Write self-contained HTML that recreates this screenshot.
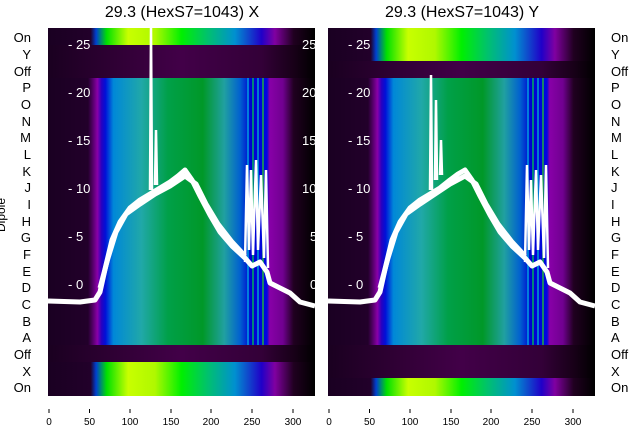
<!DOCTYPE html>
<html><head><meta charset="utf-8"><style>
html,body{margin:0;padding:0;background:#fff;width:640px;height:440px;overflow:hidden}
svg text{font-family:"Liberation Sans","DejaVu Sans",sans-serif}
</style></head><body>
<svg width="640" height="440" viewBox="0 0 640 440" xmlns="http://www.w3.org/2000/svg">
<defs>
<linearGradient id="main" x1="0" x2="1" y1="0" y2="0">
<stop offset="0" stop-color="#1a0022"/><stop offset="0.15" stop-color="#22002a"/>
<stop offset="0.17" stop-color="#5a0070"/><stop offset="0.185" stop-color="#8a00a8"/>
<stop offset="0.2" stop-color="#2a00c0"/><stop offset="0.215" stop-color="#0010d8"/>
<stop offset="0.245" stop-color="#0088d8"/><stop offset="0.35" stop-color="#20a8a8"/>
<stop offset="0.45" stop-color="#00a048"/><stop offset="0.58" stop-color="#009828"/>
<stop offset="0.66" stop-color="#20a0a0"/><stop offset="0.72" stop-color="#0060d0"/>
<stop offset="0.76" stop-color="#0000d0"/><stop offset="0.82" stop-color="#0008e0"/>
<stop offset="0.83" stop-color="#8800a8"/><stop offset="0.88" stop-color="#700090"/>
<stop offset="0.92" stop-color="#200020"/><stop offset="1" stop-color="#000000"/>
</linearGradient>
<linearGradient id="on" x1="0" x2="1" y1="0" y2="0">
<stop offset="0" stop-color="#1a0022"/><stop offset="0.16" stop-color="#22002a"/>
<stop offset="0.18" stop-color="#0040d0"/><stop offset="0.22" stop-color="#00e000"/>
<stop offset="0.3" stop-color="#c8ff00"/><stop offset="0.4" stop-color="#b0f800"/>
<stop offset="0.5" stop-color="#00f000"/><stop offset="0.6" stop-color="#00c070"/>
<stop offset="0.7" stop-color="#0090d0"/><stop offset="0.8" stop-color="#2000c8"/>
<stop offset="0.85" stop-color="#8000a0"/><stop offset="0.92" stop-color="#200020"/>
<stop offset="1" stop-color="#000000"/>
</linearGradient>
<linearGradient id="dk" x1="0" x2="1" y1="0" y2="0">
<stop offset="0" stop-color="#1a0020"/><stop offset="0.3" stop-color="#330038"/>
<stop offset="0.5" stop-color="#420048"/><stop offset="0.8" stop-color="#330038"/>
<stop offset="0.92" stop-color="#180018"/><stop offset="1" stop-color="#000"/>
</linearGradient>
</defs>

<rect x="48" y="28" width="267" height="17" fill="url(#on)"/>
<rect x="48" y="45" width="267" height="33" fill="url(#dk)"/>
<rect x="48" y="78" width="267" height="267" fill="url(#main)"/>
<rect x="48" y="345" width="267" height="17" fill="url(#dk)"/>
<rect x="48" y="362" width="267" height="34" fill="url(#on)"/>
<rect x="328" y="28" width="267" height="33" fill="url(#on)"/>
<rect x="328" y="61" width="267" height="17" fill="url(#dk)"/>
<rect x="328" y="78" width="267" height="267" fill="url(#main)"/>
<rect x="328" y="345" width="267" height="33" fill="url(#dk)"/>
<rect x="328" y="378" width="267" height="18" fill="url(#on)"/>

<g stroke-width="1.5">
<line x1="248" y1="78" x2="248" y2="345" stroke="#00a0e0"/><line x1="253" y1="78" x2="253" y2="345" stroke="#00b060"/>
<line x1="258" y1="78" x2="258" y2="345" stroke="#00a0d0"/><line x1="263" y1="78" x2="263" y2="345" stroke="#20b040"/>
<line x1="528" y1="78" x2="528" y2="345" stroke="#00a0e0"/><line x1="533" y1="78" x2="533" y2="345" stroke="#00b060"/>
<line x1="538" y1="78" x2="538" y2="345" stroke="#00a0d0"/><line x1="543" y1="78" x2="543" y2="345" stroke="#20b040"/>
</g>

<g fill="none" stroke="#fff" stroke-width="5" stroke-linejoin="round">
<polyline points="48,301 80,302 95,300 100,292 106,265 112,240 120,222 130,208 140,200 150,194 160,188 170,182 178,176 185,170 192,180 200,196 210,215 220,232 232,246 245,258 252,266 260,262 267,272 270,283 280,288 290,293 300,302 315,306"/>
<polyline points="100,288 108,258 116,232 126,214 140,204 155,194 170,186 185,176 196,184 206,204 218,224 232,242 245,256"/>
<polyline points="328,301 360,302 375,300 380,292 386,265 392,240 400,222 410,208 420,200 430,194 440,188 450,180 458,174 465,170 472,180 480,196 490,215 500,232 512,246 525,258 532,266 540,262 547,272 550,283 560,288 570,293 580,302 595,306"/>
<polyline points="380,288 388,258 396,232 406,214 420,204 435,194 450,184 465,176 476,184 486,204 498,224 512,242 525,256"/>
</g>
<g fill="none" stroke="#fff" stroke-width="2.5">
<polyline points="150,190 151,28 152,190"/><polyline points="155,185 156,130 157,185"/>
<polyline points="245,262 247,165 249,250 251,170 253,255 256,160 258,250 261,175 264,258 266,170 268,268"/>
<polyline points="430,190 431,75 432,190"/><polyline points="435,180 436,100 437,180"/><polyline points="440,175 441,140 442,175"/>
<polyline points="525,262 527,165 529,250 531,180 533,255 536,170 538,250 541,175 544,258 546,165 548,268"/>
</g>

<g fill="#fff" font-size="13">
<text x="68" y="49">- 25</text><text x="68" y="97">- 20</text><text x="68" y="145">- 15</text>
<text x="68" y="193">- 10</text><text x="68" y="241">- 5</text><text x="68" y="289">- 0</text>
<text x="348" y="49">- 25</text><text x="348" y="97">- 20</text><text x="348" y="145">- 15</text>
<text x="348" y="193">- 10</text><text x="348" y="241">- 5</text><text x="348" y="289">- 0</text>
<text x="302" y="49">25</text><text x="302" y="97">20</text><text x="302" y="145">15</text>
<text x="302" y="193">10</text><text x="310" y="241">5</text><text x="310" y="289">0</text>
</g>

<g font-size="16" fill="#000" text-anchor="middle">
<text x="182" y="17">29.3 (HexS7=1043) X</text>
<text x="462" y="17">29.3 (HexS7=1043) Y</text>
</g>

<g font-size="13" fill="#000">
<g text-anchor="end">
<text x="31" y="42">On</text><text x="31" y="59">Y</text><text x="31" y="76">Off</text><text x="31" y="92">P</text>
<text x="31" y="109">O</text><text x="31" y="126">N</text><text x="31" y="142">M</text><text x="31" y="159">L</text>
<text x="31" y="176">K</text><text x="31" y="192">J</text><text x="31" y="209">I</text><text x="31" y="226">H</text>
<text x="31" y="242">G</text><text x="31" y="259">F</text><text x="31" y="276">E</text><text x="31" y="292">D</text>
<text x="31" y="309">C</text><text x="31" y="326">B</text><text x="31" y="342">A</text><text x="31" y="359">Off</text>
<text x="31" y="376">X</text><text x="31" y="392">On</text>
</g>
<g>
<text x="611" y="42">On</text><text x="611" y="59">Y</text><text x="611" y="76">Off</text><text x="611" y="92">P</text>
<text x="611" y="109">O</text><text x="611" y="126">N</text><text x="611" y="142">M</text><text x="611" y="159">L</text>
<text x="611" y="176">K</text><text x="611" y="192">J</text><text x="611" y="209">I</text><text x="611" y="226">H</text>
<text x="611" y="242">G</text><text x="611" y="259">F</text><text x="611" y="276">E</text><text x="611" y="292">D</text>
<text x="611" y="309">C</text><text x="611" y="326">B</text><text x="611" y="342">A</text><text x="611" y="359">Off</text>
<text x="611" y="376">X</text><text x="611" y="392">On</text>
</g>
<text transform="translate(5,215) rotate(-90)" text-anchor="middle" font-size="12">Dipole</text>
</g>

<g stroke="#000" stroke-width="1">
<line x1="49" y1="409" x2="49" y2="413"/><line x1="89.5" y1="409" x2="89.5" y2="413"/><line x1="130" y1="409" x2="130" y2="413"/>
<line x1="171" y1="409" x2="171" y2="413"/><line x1="211" y1="409" x2="211" y2="413"/><line x1="252" y1="409" x2="252" y2="413"/><line x1="293" y1="409" x2="293" y2="413"/>
<line x1="329" y1="409" x2="329" y2="413"/><line x1="369.5" y1="409" x2="369.5" y2="413"/><line x1="410" y1="409" x2="410" y2="413"/>
<line x1="451" y1="409" x2="451" y2="413"/><line x1="491" y1="409" x2="491" y2="413"/><line x1="532" y1="409" x2="532" y2="413"/><line x1="573" y1="409" x2="573" y2="413"/>
</g>
<g font-size="10" fill="#000" text-anchor="middle">
<text x="49" y="425">0</text><text x="89.5" y="425">50</text><text x="130" y="425">100</text><text x="171" y="425">150</text>
<text x="211" y="425">200</text><text x="252" y="425">250</text><text x="293" y="425">300</text>
<text x="329" y="425">0</text><text x="369.5" y="425">50</text><text x="410" y="425">100</text><text x="451" y="425">150</text>
<text x="491" y="425">200</text><text x="532" y="425">250</text><text x="573" y="425">300</text>
</g>
</svg>
</body></html>
